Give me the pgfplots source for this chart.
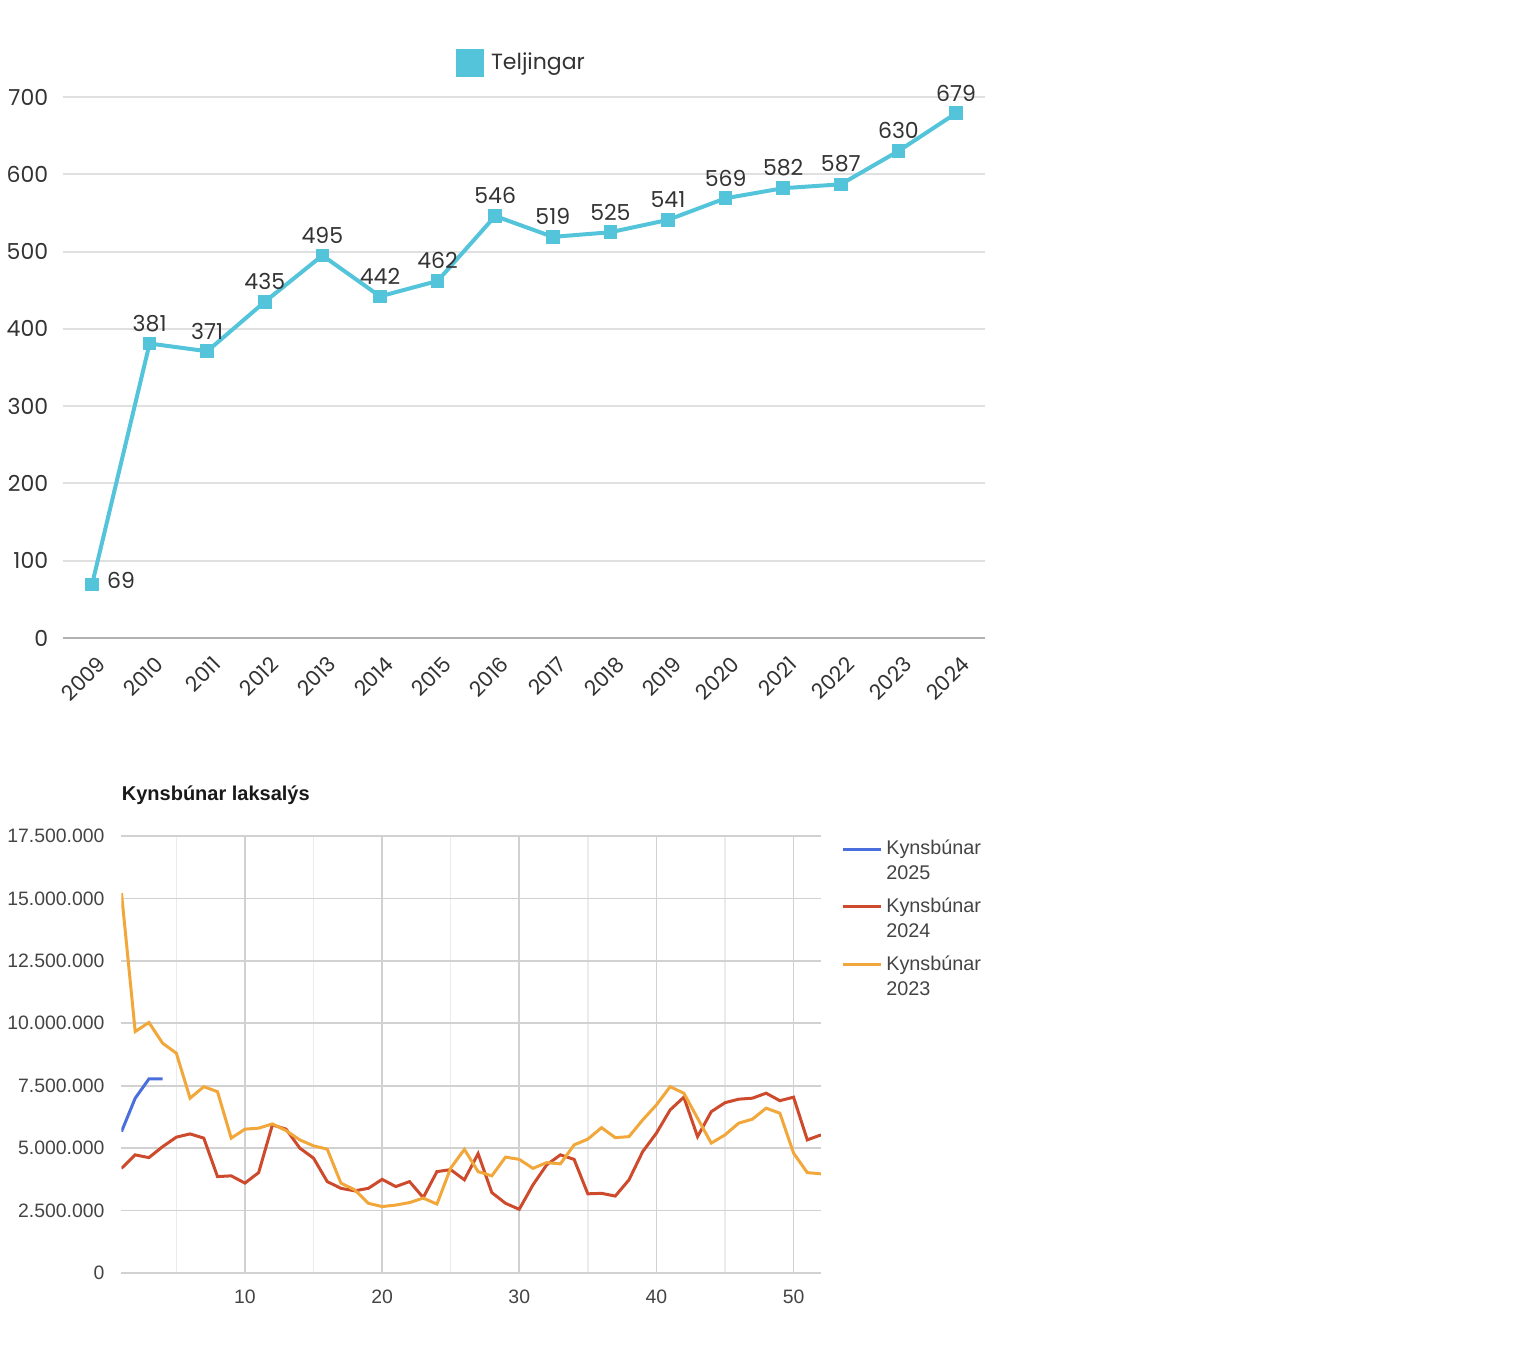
\documentclass[border=0pt]{standalone}
\usepackage{pgfplots}
\pgfplotsset{compat=1.18}
\usepackage{fontspec}
\setmainfont{Liberation Sans}
\newfontfamily\pop{Poppins}
\newfontfamily\arial{Liberation Sans}
\definecolor{teal}{HTML}{54C4DA}
\definecolor{sblue}{HTML}{4A6FDC}
\definecolor{sred}{HTML}{CD4B2C}
\definecolor{syel}{HTML}{F2A73B}
\definecolor{txt}{HTML}{333333}
\definecolor{txtb}{HTML}{444444}
\begin{document}
\begin{tikzpicture}
\path[use as bounding box] (0,0) rectangle (769pt,674pt);
% ---------- top chart ----------
\begin{axis}[
  at={(31.6pt,355pt)}, anchor=south west,
  scale only axis, width=460.8pt, height=270.5pt,
  xmin=2008.5, xmax=2024.5, ymin=0, ymax=700,
  clip=false,
  xtick={2009,...,2024},
  ytick={100,200,...,700},
  extra y ticks={0},
  extra y tick style={grid style={color=black!30, line width=1.2pt}},
  ymajorgrids,
  grid style={color=black!12, line width=1pt},
  axis line style={draw=none},
  tick style={draw=none},
  major tick length=0pt,
  /pgf/number format/1000 sep={},
  /pgf/number format/assume math mode=true,
  ticklabel style={font=\pop\fontsize{11}{13}\selectfont, text=txt},
  yticklabel style={xshift=-4pt},
  xticklabel style={rotate=45, anchor=north east, xshift=-1pt, yshift=-4pt, font=\pop\fontsize{10.5}{12}\selectfont},
  legend style={at={(0.5,1)}, anchor=south, yshift=8pt, draw=none, fill=none,
     font=\pop\fontsize{11}{13}\selectfont, text=txt},
  legend image code/.code={\fill[teal] (0pt,-6pt) rectangle (12pt,6pt);},
  legend style={nodes={inner xsep=3.5pt}},
]
\addplot[teal, line width=2pt, mark=square*, mark size=2.4pt, mark options={solid}]
  coordinates {(2009,69)(2010,381)(2011,371)(2012,435)(2013,495)(2014,442)(2015,462)(2016,546)
  (2017,519)(2018,525)(2019,541)(2020,569)(2021,582)(2022,587)(2023,630)(2024,679)};
\addlegendentry{Teljingar}
\addplot[draw=none, mark=none, forget plot, nodes near coords,
  every node near coord/.append style={anchor=south, yshift=2.5pt, font=\pop\fontsize{11}{13}\selectfont, text=txt},
  /pgf/number format/assume math mode=true]
  coordinates {(2010,381)(2011,371)(2012,435)(2013,495)(2014,442)(2015,462)(2016,546)
  (2017,519)(2018,525)(2019,541)(2020,569)(2021,582)(2022,587)(2023,630)(2024,679)};
\addplot[draw=none, mark=none, forget plot, nodes near coords,
  every node near coord/.append style={anchor=west, xshift=4pt, yshift=2pt, font=\pop\fontsize{11}{13}\selectfont, text=txt},
  /pgf/number format/assume math mode=true]
  coordinates {(2009,69)};
\end{axis}
% ---------- bottom chart ----------
\begin{axis}[
  at={(60.75pt,37.5pt)}, anchor=south west,
  scale only axis, width=349.75pt, height=218.5pt,
  xmin=1, xmax=52, ymin=0, ymax=17500000,
  xtick={10,20,...,50},
  minor xtick={5,15,25,35,45},
  ytick={2500000,5000000,7500000,10000000,12500000,15000000,17500000},
  yticklabels={2.500.000,5.000.000,7.500.000,10.000.000,12.500.000,15.000.000,17.500.000},
  extra y ticks={0}, extra y tick labels={0},
  extra y tick style={grid style={color=black!55, line width=1.3pt}},
  scaled y ticks=false,
  xmajorgrids, ymajorgrids, xminorgrids,
  major grid style={color=black!18, line width=0.8pt},
  minor grid style={color=black!8, line width=0.7pt},
  axis line style={draw=none},
  tick style={draw=none},
  major tick length=0pt, minor tick length=0pt,
  /pgf/number format/assume math mode=true,
  ticklabel style={font=\arial\fontsize{9.7}{11}\selectfont, text=txtb},
  yticklabel style={xshift=-5pt},
  xticklabel style={yshift=-5pt},
  title={\textbf{Kynsbúnar laksalýs}},
  title style={at={(0,1)}, anchor=base west, yshift=11.5pt, inner sep=0pt, font=\arial\fontsize{10}{12}\selectfont, text=black!90},
  legend style={at={(1,1)}, anchor=north west, xshift=7pt, yshift=2pt, draw=none, fill=none,
     font=\arial\fontsize{9.9}{12.5}\selectfont, text=txtb, nodes={align=left}, row sep=3.5pt},
  legend cell align=left,
  legend image code/.code={\path (0pt,-6.25pt); \draw[#1, line width=1.4pt] (0pt,6.25pt) -- (19pt,6.25pt);},
]
\addplot[sblue, line width=1.5pt] coordinates {(1,5.66e6)(2,7.0e6)(3,7.77e6)(4,7.77e6)};
\addlegendentry{Kynsbúnar\\2025}
\addplot[sred, line width=1.5pt] coordinates {
(1,4.19e6)(2,4.73e6)(3,4.62e6)(4,5.06e6)(5,5.44e6)(6,5.57e6)(7,5.4e6)(8,3.86e6)(9,3.89e6)(10,3.6e6)
(11,4.02e6)(12,5.93e6)(13,5.76e6)(14,5.0e6)(15,4.6e6)(16,3.66e6)(17,3.39e6)(18,3.29e6)(19,3.39e6)(20,3.75e6)
(21,3.46e6)(22,3.66e6)(23,3.02e6)(24,4.06e6)(25,4.14e6)(26,3.73e6)(27,4.78e6)(28,3.22e6)(29,2.79e6)(30,2.55e6)
(31,3.53e6)(32,4.33e6)(33,4.73e6)(34,4.55e6)(35,3.17e6)(36,3.19e6)(37,3.08e6)(38,3.73e6)(39,4.86e6)(40,5.6e6)
(41,6.53e6)(42,7.04e6)(43,5.46e6)(44,6.46e6)(45,6.82e6)(46,6.96e6)(47,7.0e6)(48,7.2e6)(49,6.9e6)(50,7.04e6)
(51,5.33e6)(52,5.53e6)};
\addlegendentry{Kynsbúnar\\2024}
\addplot[syel, line width=1.5pt] coordinates {
(1,15.21e6)(2,9.67e6)(3,10.03e6)(4,9.2e6)(5,8.8e6)(6,7.0e6)(7,7.46e6)(8,7.26e6)(9,5.4e6)(10,5.76e6)
(11,5.8e6)(12,5.97e6)(13,5.7e6)(14,5.33e6)(15,5.09e6)(16,4.96e6)(17,3.6e6)(18,3.33e6)(19,2.79e6)(20,2.66e6)
(21,2.72e6)(22,2.82e6)(23,3.0e6)(24,2.76e6)(25,4.2e6)(26,4.95e6)(27,4.06e6)(28,3.89e6)(29,4.64e6)(30,4.55e6)
(31,4.19e6)(32,4.42e6)(33,4.37e6)(34,5.13e6)(35,5.36e6)(36,5.82e6)(37,5.42e6)(38,5.46e6)(39,6.13e6)(40,6.73e6)
(41,7.46e6)(42,7.2e6)(43,6.2e6)(44,5.2e6)(45,5.53e6)(46,6.0e6)(47,6.16e6)(48,6.6e6)(49,6.4e6)(50,4.8e6)
(51,4.02e6)(52,3.97e6)};
\addlegendentry{Kynsbúnar\\2023}
\end{axis}
\end{tikzpicture}
\end{document}
